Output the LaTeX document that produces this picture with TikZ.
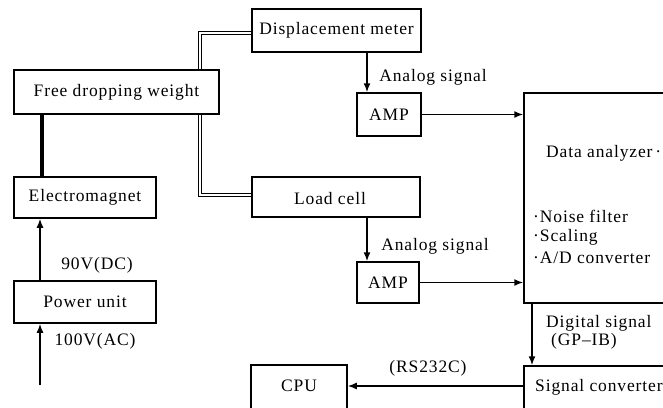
\documentclass[tikz,border=0pt]{standalone}
\usepackage{fontspec}
\setmainfont{Liberation Serif}[LetterSpace=5]
\usetikzlibrary{arrows.meta}
\begin{document}
\begin{tikzpicture}[x=1pt,y=-1pt,
  box/.style={draw,line width=1.5pt,inner sep=0pt,font=\fontsize{17.5}{20}\selectfont},
  lbl/.style={inner sep=0pt,font=\fontsize{17.5}{20}\selectfont},
  arr/.style={line width=1.5pt,-{Latex[length=9pt,width=7pt]}},
  dbl/.style={line width=1.3pt,double,double distance=1.6pt},
  thk/.style={line width=3.4pt}]
\useasboundingbox (0,0) rectangle (663,407);
\clip (0,0) rectangle (663,407);
% boxes
\node[box,minimum width=169pt,minimum height=43pt] (dm) at (336.5,30.5) {Displacement meter};
\node[box,minimum width=205pt,minimum height=44pt] (fdw) at (116.5,92) {Free dropping weight};
\node[box,minimum width=142pt,minimum height=41pt] (em) at (85,197.5) {Electromagnet};
\node[box,minimum width=168pt,minimum height=40pt] (lc) at (336,197) {};
\node[lbl] (lct) at (330,199) {Load cell};
\node[box,minimum width=64pt,minimum height=43pt] (amp1) at (389,114.5) {AMP};
\node[box,minimum width=62pt,minimum height=41pt] (amp2) at (388,282.5) {AMP};
\node[box,minimum width=176pt,minimum height=210pt] (da) at (612,198) {};
\node[lbl,anchor=west] (dat) at (546,153) {Data analyzer\,·};
\node[lbl,anchor=west] (nf) at (533,216) {·Noise filter};
\node[lbl,anchor=west] (scl) at (533,237) {·Scaling};
\node[lbl,anchor=west] (adc) at (533,258) {·A/D converter};
\node[box,minimum width=142pt,minimum height=42pt] (pu) at (85,302) {Power unit};
\node[box,minimum width=96pt,minimum height=55pt] (cpu) at (299,392.5) {};
\node[lbl] (cput) at (299,386) {CPU};
\node[box,minimum width=176pt,minimum height=55pt] (sc) at (612,393.5) {};
\node[lbl,anchor=west] (sct) at (535,387) {Signal converter};
% labels
\node[lbl] (al1) at (433,77) {Analog signal};
\node[lbl] (al2) at (435,246) {Analog signal};
\node[lbl] (v90) at (97,265) {90V(DC)};
\node[lbl] (v100) at (95,341) {100V(AC)};
\node[lbl,anchor=west] (dig) at (546,323) {Digital signal};
\node[lbl,anchor=west] (gp) at (551,341) {(GP--IB)};
\node[lbl] (rs) at (428,368) {(RS232C)};
% connectors
\coordinate (in) at (40,385);
\coordinate (mech) at (200,0);
\draw[arr] (in) -- (in |- pu.south);
\draw[arr] (pu.north -| in) -- (em.south -| in);
\draw[thk] ([xshift=2pt]em.north -| in) -- ([xshift=2pt]fdw.south -| in);
\draw[dbl] (fdw.north -| mech) |- ([yshift=-2.5pt]dm.west);
\draw[dbl] (fdw.south -| mech) |- ([yshift=2pt]lc.west);
\coordinate (col) at (367,0);
\draw[arr] (dm.south -| col) -- (amp1.north -| col);
\draw[arr] (lc.south -| col) -- (amp2.north -| col);
\draw[arr] (amp1.east) -- (amp1.east -| da.west);
\draw[arr] (amp2.east) -- (amp2.east -| da.west);
\coordinate (dcol) at (532,0);
\draw[arr] (da.south -| dcol) -- (sc.north -| dcol);
\draw[arr] (sc.west |- cput) -- (cpu.east |- cput);
\end{tikzpicture}
\end{document}
